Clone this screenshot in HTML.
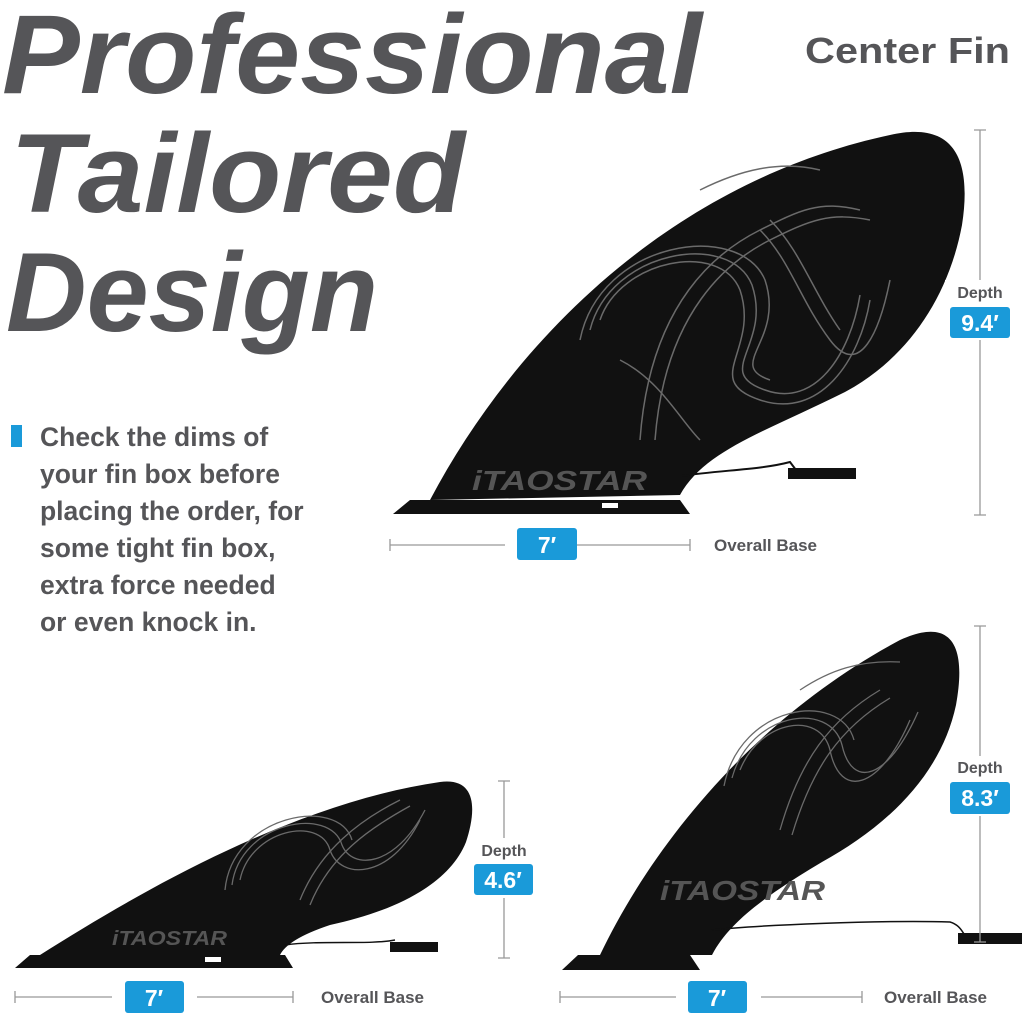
<!DOCTYPE html>
<html><head><meta charset="utf-8"><style>
html,body{margin:0;padding:0;background:#fff;}
svg{display:block;}
</style></head><body>
<svg width="1024" height="1015" viewBox="0 0 1024 1015" xmlns="http://www.w3.org/2000/svg" font-family="Liberation Sans, sans-serif">
<rect width="1024" height="1015" fill="#fff"/>
<g fill="#555558" font-weight="bold" font-style="italic" font-size="112">
<text x="2" y="93" textLength="700" lengthAdjust="spacingAndGlyphs">Professional</text>
<text x="10" y="212" textLength="455" lengthAdjust="spacingAndGlyphs">Tailored</text>
<text x="6" y="331" textLength="372" lengthAdjust="spacingAndGlyphs">Design</text>
</g>
<text x="805" y="63" font-size="36" font-weight="bold" fill="#555558" textLength="205" lengthAdjust="spacingAndGlyphs">Center Fin</text>
<rect x="11" y="425" width="11" height="22" fill="#1a9ad9"/>
<g fill="#555558" font-size="26.5" font-weight="bold">
<text x="40" y="446">Check the dims of</text>
<text x="40" y="483">your fin box before</text>
<text x="40" y="520">placing the order, for</text>
<text x="40" y="557">some tight fin box,</text>
<text x="40" y="594">extra force needed</text>
<text x="40" y="631">or even knock in.</text>
</g>

<!-- Big fin -->
<path d="M430,500 C520,330 680,180 890,135 C955,120 972,160 962,225 C948,300 905,360 845,392 C765,432 705,450 680,495 Z" fill="#111"/>
<g fill="none" stroke="#6a6a6a" stroke-width="1.5">
<path d="M600,320 C620,260 720,240 740,290 C760,350 700,380 760,400 C820,420 860,360 870,300"/>
<path d="M590,330 C610,250 730,230 752,285 C772,345 712,372 765,390 C815,408 850,355 860,295"/>
<path d="M580,340 C600,240 740,220 765,280 C785,340 725,365 770,380"/>
<path d="M640,440 C650,300 720,250 760,230 C800,210 820,200 860,210"/>
<path d="M655,440 C665,310 730,260 770,240 C810,220 830,212 870,220"/>
<path d="M620,360 C660,380 680,420 700,440"/>
<path d="M760,230 C790,260 800,300 830,340 C860,380 880,330 890,280"/>
<path d="M770,220 C800,250 812,290 840,330"/>
<path d="M700,190 C740,170 780,160 820,170"/>
</g>
<polygon points="393,514 410,500 680,500 690,514" fill="#111"/>
<rect x="602" y="503" width="16" height="5" fill="#fff"/>
<text x="472" y="490" font-size="28" font-weight="bold" font-style="italic" fill="#555" textLength="175" lengthAdjust="spacingAndGlyphs">iTAOSTAR</text>
<path d="M682,476 C720,470 760,470 790,462 L796,470" stroke="#111" stroke-width="2" fill="none"/>
<rect x="788" y="468" width="68" height="11" fill="#111"/>

<!-- Small fin -->
<path d="M40,955 C150,885 300,802 440,782 C478,777 476,812 466,842 C450,882 400,910 330,925 C300,935 285,945 280,955 Z" fill="#111"/>
<g fill="none" stroke="#6a6a6a" stroke-width="1.3">
<path d="M240,880 C250,830 320,815 330,850 C340,880 390,880 420,820"/>
<path d="M232,885 C240,822 330,805 342,845 C352,870 395,868 425,810"/>
<path d="M225,890 C232,815 338,795 352,840"/>
<path d="M300,900 C320,850 360,820 400,800"/>
<path d="M310,905 C330,855 370,828 410,806"/>
</g>
<polygon points="15,968 30,955 285,955 293,968" fill="#111"/>
<rect x="205" y="957" width="16" height="5" fill="#fff"/>
<text x="112" y="945" font-size="20" font-weight="bold" font-style="italic" fill="#555" textLength="115" lengthAdjust="spacingAndGlyphs">iTAOSTAR</text>
<path d="M285,945 C320,940 370,945 395,940" stroke="#111" stroke-width="1.5" fill="none"/>
<rect x="390" y="942" width="48" height="10" fill="#111"/>

<!-- Bottom-right fin -->
<path d="M600,955 C650,850 750,720 900,640 C955,615 966,650 956,705 C940,780 880,830 822,862 C772,892 730,920 712,955 Z" fill="#111"/>
<g fill="none" stroke="#6a6a6a" stroke-width="1.3">
<path d="M740,770 C760,720 820,710 830,750 C840,800 880,790 910,720"/>
<path d="M732,778 C750,712 830,700 842,745 C852,790 888,780 918,712"/>
<path d="M724,786 C740,704 840,690 854,740"/>
<path d="M780,830 C800,760 830,720 880,690"/>
<path d="M792,835 C812,768 840,728 890,698"/>
<path d="M800,690 C830,670 860,660 900,662"/>
</g>
<polygon points="562,970 578,955 690,955 700,970" fill="#111"/>
<text x="660" y="900" font-size="28" font-weight="bold" font-style="italic" fill="#555" textLength="165" lengthAdjust="spacingAndGlyphs">iTAOSTAR</text>
<path d="M712,930 C760,925 880,920 950,922 C960,925 962,932 965,935" stroke="#111" stroke-width="1.5" fill="none"/>
<rect x="958" y="933" width="64" height="11" fill="#111"/>

<!-- dimension lines -->
<g stroke="#999" stroke-width="1.3" fill="none">
<path d="M980,130 V515 M974,130 H986 M974,515 H986"/>
<path d="M980,626 V942 M974,626 H986 M974,942 H986"/>
<path d="M504,781 V958 M498,781 H510 M498,958 H510"/>
<path d="M390,545 H690 M390,539 V551 M690,539 V551"/>
<path d="M15,997 H293 M15,991 V1003 M293,991 V1003"/>
<path d="M560,997 H862 M560,991 V1003 M862,991 V1003"/>
</g>
<g fill="#fff">
<rect x="945" y="280" width="70" height="60"/>
<rect x="945" y="756" width="70" height="60"/>
<rect x="470" y="838" width="70" height="60"/>
<rect x="505" y="530" width="70" height="30"/>
<rect x="112" y="982" width="85" height="30"/>
<rect x="676" y="982" width="85" height="30"/>
</g>
<g fill="#555558" font-size="16" font-weight="bold" text-anchor="middle">
<text x="980" y="298">Depth</text>
<text x="980" y="773">Depth</text>
<text x="504" y="856">Depth</text>
</g>
<g fill="#555558" font-size="17" font-weight="bold">
<text x="714" y="551">Overall Base</text>
<text x="321" y="1003">Overall Base</text>
<text x="884" y="1003">Overall Base</text>
</g>
<g fill="#1a9ad9">
<rect x="950" y="307" width="60" height="31" rx="3"/>
<rect x="950" y="782" width="60" height="32" rx="3"/>
<rect x="474" y="864" width="59" height="31" rx="3"/>
<rect x="517" y="528" width="60" height="32" rx="3"/>
<rect x="125" y="981" width="59" height="32" rx="3"/>
<rect x="688" y="981" width="59" height="32" rx="3"/>
</g>
<g fill="#fff" font-size="23" font-weight="bold" text-anchor="middle">
<text x="980" y="331">9.4′</text>
<text x="980" y="806">8.3′</text>
<text x="503" y="888">4.6′</text>
<text x="547" y="553">7′</text>
<text x="154" y="1006">7′</text>
<text x="717" y="1006">7′</text>
</g>
</svg>
</body></html>
